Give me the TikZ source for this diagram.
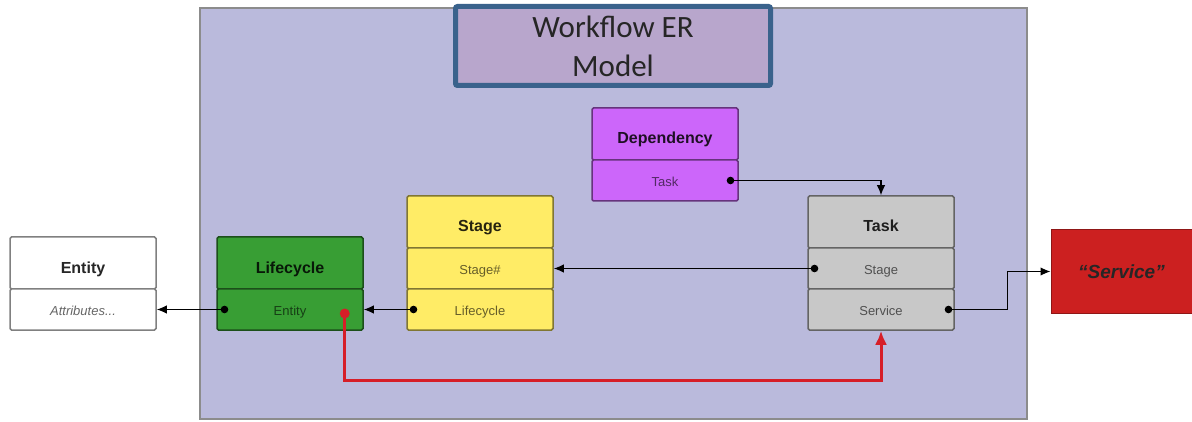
\documentclass[tikz,border=0pt]{standalone}
\usepackage{fontspec}
\setmainfont{Liberation Sans}
\newfontfamily\titlefont{Carlito}
\usetikzlibrary{arrows.meta,positioning}

\definecolor{modelbg}{RGB}{186,186,220}
\definecolor{titlebg}{RGB}{184,166,204}
\definecolor{titleframe}{RGB}{58,98,140}
\definecolor{depviolet}{RGB}{204,102,250}
\definecolor{taskgray}{RGB}{200,200,200}
\definecolor{stageyellow}{RGB}{255,236,102}
\definecolor{lifegreen}{RGB}{56,158,52}
\definecolor{servicered}{RGB}{204,32,32}
\definecolor{linkred}{RGB}{214,30,40}

\begin{document}
\begin{tikzpicture}[x=1pt,y=-1pt,node distance=41pt,>={Latex[length=10pt,width=8.5pt]},every node/.style={inner sep=0pt}]
    \tikzstyle{box}=[line width=1.5pt,rounded corners=1.5pt,minimum width=146pt]
    \tikzstyle{head}=[box,draw=#1!50!black,fill=#1,text=#1!15!black,minimum height=52pt,
                      text height=20pt,text depth=0pt,font=\bfseries\fontsize{16}{18}\selectfont]
    \tikzstyle{row}=[box,draw=#1!50!black,fill=#1,text=#1!40!black,minimum height=41pt,
                     text height=12pt,text depth=0pt,font=\fontsize{13}{15}\selectfont]
    \tikzstyle{link}=[line width=1.3pt,{Circle[length=7.5pt]}->]
    \tikzstyle{redlink}=[line width=3pt,-{Latex[length=14pt,width=12pt]},draw=linkred]

    \useasboundingbox (0,0) rectangle (1192,422);
    % the model area
    \draw[fill=modelbg,draw=black!45,line width=1.8pt] (200,8) rectangle (1027,419);
    \node[draw=titleframe,fill=titlebg,line width=5pt,rounded corners=2pt,minimum width=315pt,minimum height=79pt,
          align=center,text=black!85,font=\titlefont\fontsize{31}{39}\selectfont] (title) at (613,46) {Workflow ER\\Model};

    % tables
    \node[head=white] (entity) at (83,263) {Entity};
    \node[row=white,node distance=46.5pt,below of=entity] (attrs) {\itshape Attributes...};

    \node[head=lifegreen] (lifecycle) at (290,263) {Lifecycle};
    \node[row=lifegreen,node distance=46.5pt,below of=lifecycle] (lcentity) {Entity};

    \node[head=stageyellow] (stage) at (480,222) {Stage};
    \node[row=stageyellow,node distance=46.5pt,below of=stage] (stnum) {Stage\#};
    \node[row=stageyellow,below of=stnum] (stlife) {Lifecycle};

    \node[head=depviolet] (dependency) at (665,134) {Dependency};
    \node[row=depviolet,node distance=46.5pt,below of=dependency] (dptask) {Task};

    \node[head=taskgray] (task) at (881,222) {Task};
    \node[row=taskgray,node distance=46.5pt,below of=task] (tkstage) {Stage};
    \node[row=taskgray,below of=tkstage] (tkservice) {Service};

    \node[fill=servicered,draw=servicered!70!black,line width=1pt,minimum width=141pt,minimum height=83pt,
          text=black!85,font=\bfseries\itshape\fontsize{19}{22}\selectfont] (service) at (1121.5,271.5) {“Service”};

    % key dots
    \coordinate (dpdot) at ([xshift=-12pt]dptask.east);
    \coordinate (tkstdot) at ([xshift=11pt]tkstage.west);
    \coordinate (tksvdot) at ([xshift=-10pt]tkservice.east);
    \coordinate (stlfdot) at ([xshift=11pt]stlife.west);
    \coordinate (lcendot) at ([xshift=12pt]lcentity.west);
    \coordinate (lcreddot) at ([xshift=-19pt,yshift=-4pt]lcentity.east);

    % references
    \draw[link] (dpdot) -| (task.north);
    \draw[link] (tkstdot) -- (stnum.east);
    \draw[link] (stlfdot) -- (lcentity.east);
    \draw[link] (lcendot) -- (attrs.east);
    \draw[link] (tksvdot) -- ++(63,0) |- (service.west);
    \draw[redlink] (lcreddot) -- ++(0,67) -| (tkservice.south);
    \fill[linkred] (lcreddot) circle (5pt);
\end{tikzpicture}
\end{document}
